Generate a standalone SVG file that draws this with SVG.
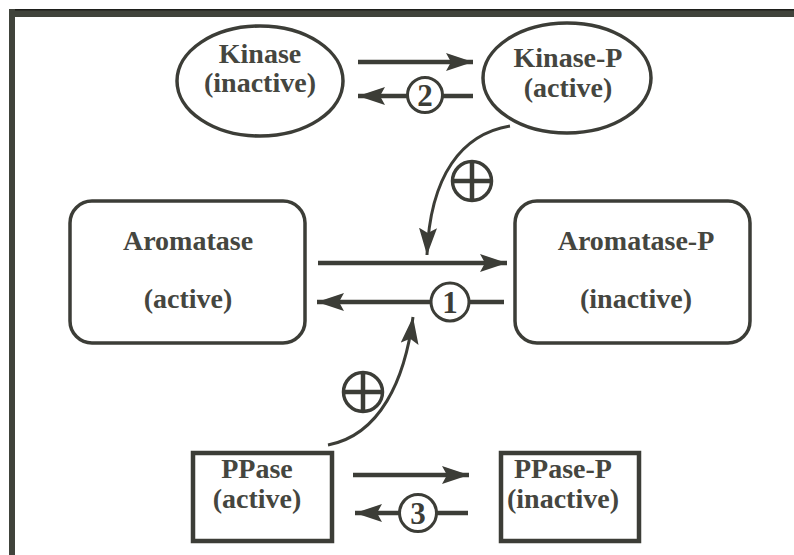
<svg xmlns="http://www.w3.org/2000/svg" width="794" height="555" viewBox="0 0 794 555">
  <style>
    .node { fill: #ffffff; stroke: #3c3d37; }
    .lbl { font-family: 'Liberation Serif', 'Times New Roman', serif; font-weight: bold; font-size: 28px; fill: #45463f; text-anchor: middle; }
    .num { font-family: 'Liberation Serif', 'Times New Roman', serif; font-weight: bold; font-size: 31px; fill: #3c3d37; text-anchor: middle; }
    .flow { fill: none; stroke: #3c3d37; stroke-width: 4.5; }
    .curve { fill: none; stroke: #3c3d37; stroke-width: 3; }
    .ring { fill: #ffffff; stroke: #3c3d37; stroke-width: 3; }
    .plusring { fill: #ffffff; stroke: #3c3d37; stroke-width: 3.5; }
    .plus { stroke: #3c3d37; stroke-width: 4.5; }
  </style>
  <defs>
    <marker id="head" markerUnits="userSpaceOnUse" markerWidth="28" markerHeight="20" refX="27" refY="9" orient="auto">
      <path d="M0,0 L27,9 L0,18 L5,9 Z" fill="#3c3d37"/>
    </marker>
  </defs>

  <rect width="794" height="555" fill="#ffffff"/>

  <!-- frame -->
  <rect x="9" y="9" width="785" height="8" fill="#40433b"/>
  <rect x="9" y="9" width="785" height="1.5" fill="#1e1f1b"/>
  <rect x="9" y="9" width="6" height="546" fill="#40433b"/>

  <!-- connectors -->
  <g id="connectors">
    <!-- kinase cycle -->
    <line class="flow" x1="358" y1="62" x2="473" y2="62" marker-end="url(#head)"/>
    <line class="flow" x1="473" y1="96" x2="358" y2="96" marker-end="url(#head)"/>
    <circle class="ring" cx="425" cy="95" r="17.5"/>
    <text class="num" x="425" y="106">2</text>

    <!-- aromatase cycle -->
    <line class="flow" x1="318" y1="263" x2="507" y2="263" marker-end="url(#head)"/>
    <line class="flow" x1="504" y1="302" x2="317" y2="302" marker-end="url(#head)"/>
    <circle class="ring" cx="450" cy="302" r="19"/>
    <text class="num" x="450" y="313">1</text>

    <!-- PPase cycle -->
    <line class="flow" x1="353" y1="475" x2="469" y2="475" marker-end="url(#head)"/>
    <line class="flow" x1="468" y1="513" x2="355" y2="513" marker-end="url(#head)"/>
    <circle class="ring" cx="418" cy="513" r="18.5"/>
    <text class="num" x="418" y="524">3</text>

    <!-- Kinase-P activates forward step -->
    <path class="curve" d="M510,126 C462,134 430,175 427,255" marker-end="url(#head)"/>
    <circle class="plusring" cx="472" cy="181" r="19.5"/>
    <line class="plus" x1="453" y1="181" x2="491" y2="181"/>
    <line class="plus" x1="472" y1="162" x2="472" y2="200"/>

    <!-- PPase activates reverse step -->
    <path class="curve" d="M328,445 C380,435 405,380 413,317" marker-end="url(#head)"/>
    <circle class="plusring" cx="363" cy="392" r="19.5"/>
    <line class="plus" x1="344" y1="392" x2="382" y2="392"/>
    <line class="plus" x1="363" y1="373" x2="363" y2="411"/>
  </g>

  <!-- nodes -->
  <g id="kinase">
    <ellipse class="node" cx="260" cy="81" rx="83" ry="55" stroke-width="3.5"/>
    <text class="lbl" x="260" y="63">Kinase</text>
    <text class="lbl" x="260" y="92">(inactive)</text>
  </g>
  <g id="kinase-p">
    <ellipse class="node" cx="567" cy="78" rx="84" ry="55" stroke-width="3.5"/>
    <text class="lbl" x="568" y="67">Kinase-P</text>
    <text class="lbl" x="568" y="97">(active)</text>
  </g>
  <g id="aromatase">
    <rect class="node" x="70" y="201" width="235" height="142" rx="22" stroke-width="3.5"/>
    <text class="lbl" x="188" y="250">Aromatase</text>
    <text class="lbl" x="188" y="308">(active)</text>
  </g>
  <g id="aromatase-p">
    <rect class="node" x="515" y="201" width="235" height="142" rx="22" stroke-width="3.5"/>
    <text class="lbl" x="636" y="250">Aromatase-P</text>
    <text class="lbl" x="636" y="308">(inactive)</text>
  </g>
  <g id="ppase">
    <rect class="node" x="193" y="453" width="139" height="88" stroke-width="4.5"/>
    <text class="lbl" x="257" y="478">PPase</text>
    <text class="lbl" x="257" y="508">(active)</text>
  </g>
  <g id="ppase-p">
    <rect class="node" x="501" y="453" width="138" height="88" stroke-width="4.5"/>
    <text class="lbl" x="563" y="478">PPase-P</text>
    <text class="lbl" x="563" y="508">(inactive)</text>
  </g>
</svg>
